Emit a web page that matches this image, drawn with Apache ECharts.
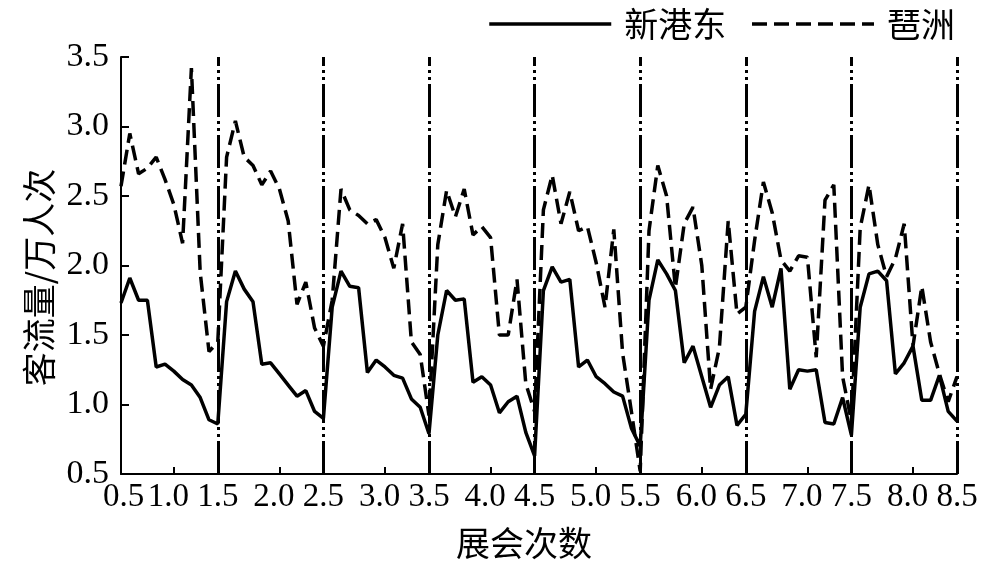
<!DOCTYPE html>
<html><head><meta charset="utf-8">
<script src="https://cdn.jsdelivr.net/npm/echarts@6/dist/echarts.min.js"></script>
<style>html,body{margin:0;padding:0;background:#fff}#c{width:1000px;height:565px}</style>
</head><body><div id="c"></div>
<script>
// Day index grid (every 2nd day); 8 exhibitions, boundaries at dash-dot lines
const dayIdx = Array.from({length: 96}, (_, i) => i * 2);

// 新港东 (solid)
const xingangdong = [
  1.73, 1.91, 1.75, 1.75, 1.27, 1.29, 1.24, 1.18, 1.14, 1.05, 0.89, 0.86,
  1.74, 1.96, 1.83, 1.74, 1.29, 1.30, 1.22, 1.14, 1.06, 1.10, 0.95, 0.90,
  1.70, 1.96, 1.85, 1.84, 1.23, 1.32, 1.27, 1.21, 1.19, 1.04, 0.98, 0.79,
  1.50, 1.82, 1.75, 1.76, 1.16, 1.20, 1.14, 0.94, 1.02, 1.06, 0.80, 0.63,
  1.82, 1.99, 1.88, 1.90, 1.27, 1.32, 1.20, 1.15, 1.09, 1.06, 0.83, 0.70,
  1.75, 2.04, 1.94, 1.82, 1.30, 1.42, 1.20, 0.98, 1.14, 1.20, 0.85, 0.93,
  1.67, 1.92, 1.70, 1.98, 1.11, 1.25, 1.24, 1.25, 0.87, 0.86, 1.05, 0.78,
  1.70, 1.94, 1.96, 1.89, 1.22, 1.30, 1.42, 1.03, 1.03, 1.21, 0.95, 0.88
];
// 琶洲 (dashed)
const pazhou = [
  2.57, 2.95, 2.66, 2.70, 2.78, 2.62, 2.44, 2.16, 3.42, 1.95, 1.38, 1.45,
  2.78, 3.04, 2.78, 2.72, 2.58, 2.68, 2.55, 2.32, 1.72, 1.88, 1.55, 1.42,
  1.75, 2.55, 2.40, 2.36, 2.30, 2.33, 2.20, 1.98, 2.30, 1.45, 1.36, 0.92,
  2.15, 2.54, 2.35, 2.55, 2.22, 2.28, 2.20, 1.50, 1.50, 1.90, 1.15, 0.95,
  2.40, 2.65, 2.30, 2.53, 2.25, 2.28, 2.02, 1.70, 2.26, 1.37, 0.95, 0.52,
  2.25, 2.72, 2.50, 1.84, 2.30, 2.42, 2.00, 1.11, 1.41, 2.32, 1.65, 1.70,
  2.18, 2.60, 2.38, 2.04, 1.96, 2.07, 2.06, 1.34, 2.47, 2.58, 1.20, 0.88,
  2.27, 2.58, 2.15, 1.92, 2.05, 2.30, 1.42, 1.85, 1.45, 1.22, 1.02, 1.20
];

const xTickLabels = ['0.5','1.0','1.5','2.0','2.5','3.0','3.5','4.0','4.5','5.0','5.5','6.0','6.5','7.0','7.5','8.0','8.5'];
const xTickDays   = [0, 12, 22, 36, 46, 60, 70, 84, 94, 108, 118, 132, 142, 156, 166, 180, 190];
const minorTickDays = [12, 36, 60, 84, 108, 132, 156, 180];
const boundaryDays = [22, 46, 70, 94, 118, 142, 166, 190];

const serif = '"Liberation Serif", "Times New Roman", serif';
const cjk = '"Noto Sans CJK SC", sans-serif';
const lab = {fontFamily: serif, fontSize: 33, color: '#000'};

const chart = echarts.init(document.getElementById('c'), null, {renderer: 'canvas'});
chart.setOption({
  animation: false,
  backgroundColor: '#fff',
  grid: {left: 121, right: 43, top: 57, bottom: 91, containLabel: false, outerBoundsMode: 'none'},
  legend: {
    right: 40, top: 2,
    itemWidth: 122, itemHeight: 20, itemGap: 24,
    lineStyle: {width: 3.5},
    itemStyle: {opacity: 0},
    textStyle: {fontFamily: cjk, fontSize: 34, color: '#000', padding: [0, 0, 0, 8]},
    data: ['新港东', '琶洲']
  },
  xAxis: {
    type: 'value', min: 0, max: 190,
    name: '展会次数', nameLocation: 'middle', nameGap: 52,
    nameTextStyle: {fontFamily: cjk, fontSize: 34, color: '#000', padding: [0, 30, 0, 0]},
    splitLine: {show: false},
    axisLine: {lineStyle: {color: '#000', width: 2}},
    axisTick: {inside: true, length: 7, lineStyle: {color: '#000', width: 2}, customValues: minorTickDays},
    axisLabel: {
      customValues: xTickDays, margin: 7,
      showMinLabel: true, showMaxLabel: true, hideOverlap: false,
      fontFamily: serif, fontSize: 33, color: '#000',
      formatter: v => {
        const t = xTickLabels[xTickDays.indexOf(v)] ?? '';
        if (v === 0) return '{f|' + t + '}';
        if (minorTickDays.indexOf(v) >= 0) return '{m|' + t + '}';
        return '{n|' + t + '}';
      },
      rich: {
        f: Object.assign({padding: [0, 0, 0, 5]}, lab),
        m: Object.assign({padding: [0, 11, 0, 0]}, lab),
        n: Object.assign({}, lab)
      }
    }
  },
  yAxis: {
    type: 'value', min: 0.5, max: 3.5, interval: 0.5,
    name: '客流量/万人次', nameLocation: 'middle', nameGap: 62, nameRotate: 90,
    nameTextStyle: {fontFamily: cjk, fontSize: 34, color: '#000', padding: [0, 24, 0, 0]},
    splitLine: {show: false},
    axisLine: {show: true, lineStyle: {color: '#000', width: 2}},
    axisTick: {show: true, inside: true, length: 8, lineStyle: {color: '#000', width: 2}},
    axisLabel: {margin: 12, showMinLabel: true, showMaxLabel: true, fontFamily: serif, fontSize: 34, color: '#000', formatter: v => v.toFixed(1)}
  },
  series: [
    {
      name: '新港东', type: 'line', symbol: 'none',
      data: dayIdx.map((d, i) => [d, xingangdong[i]]),
      lineStyle: {color: '#000', width: 3.5, type: 'solid'},
      itemStyle: {color: '#000'},
      markLine: {
        silent: true, symbol: ['none', 'none'], label: {show: false},
        lineStyle: {color: '#000', width: 3, type: [33, 4, 3, 4, 3, 4]},
        data: boundaryDays.map(d => ({xAxis: d}))
      }
    },
    {
      name: '琶洲', type: 'line', symbol: 'none',
      data: dayIdx.map((d, i) => [d, pazhou[i]]),
      lineStyle: {color: '#000', width: 3.5, type: [15, 7]},
      itemStyle: {color: '#000'}
    }
  ]
});
</script></body></html>
